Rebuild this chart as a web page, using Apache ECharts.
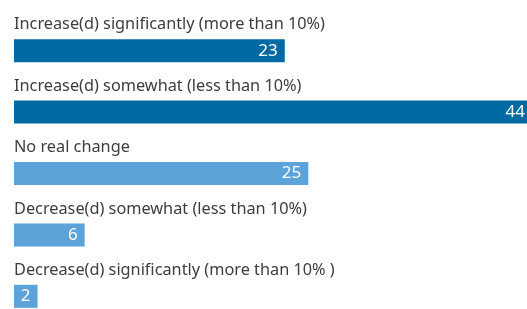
<!DOCTYPE html>
<html>
<head>
<meta charset="utf-8">
<script src="https://cdn.jsdelivr.net/npm/echarts@6/dist/echarts.min.js"></script>
<style>
  html, body { margin: 0; padding: 0; background: #fff; }
  #chartBar { width: 527px; height: 309px; }
</style>
</head>
<body>
<div id="chartBar"></div>
<script>
var categories = [
  'Increase(d) significantly (more than 10%)',
  'Increase(d) somewhat (less than 10%)',
  'No real change',
  'Decrease(d) somewhat (less than 10%)',
  'Decrease(d) significantly (more than 10% )'
];
var values = [23, 44, 25, 6, 2];
var barColors = ['#006ba2', '#006ba2', '#5ca3da', '#5ca3da', '#5ca3da'];

var fontFamily = '"Noto Sans", sans-serif';

var chart = echarts.init(document.getElementById('chartBar'));
chart.setOption({
  animation: false,
  grid: {
    left: 14,
    top: 20,
    width: 518,
    height: 307,
    outerBoundsMode: 'none'
  },
  xAxis: {
    type: 'value',
    min: 0,
    max: 44,
    show: false
  },
  yAxis: {
    type: 'category',
    inverse: true,
    data: categories,
    axisLine: { show: false },
    axisTick: { show: false },
    axisLabel: {
      inside: true,
      align: 'left',
      verticalAlign: 'bottom',
      margin: 0,
      padding: [0, 0, 18, 0],
      color: '#3d3d3d',
      fontSize: 16.3,
      fontFamily: fontFamily
    }
  },
  series: [{
    type: 'bar',
    barWidth: 23,
    data: values.map(function (v, i) {
      return { value: v, itemStyle: { color: barColors[i] } };
    }),
    label: {
      show: true,
      position: 'insideRight',
      distance: 7,
      color: '#fff',
      fontSize: 17,
      fontFamily: fontFamily
    }
  }]
});
</script>
</body>
</html>
